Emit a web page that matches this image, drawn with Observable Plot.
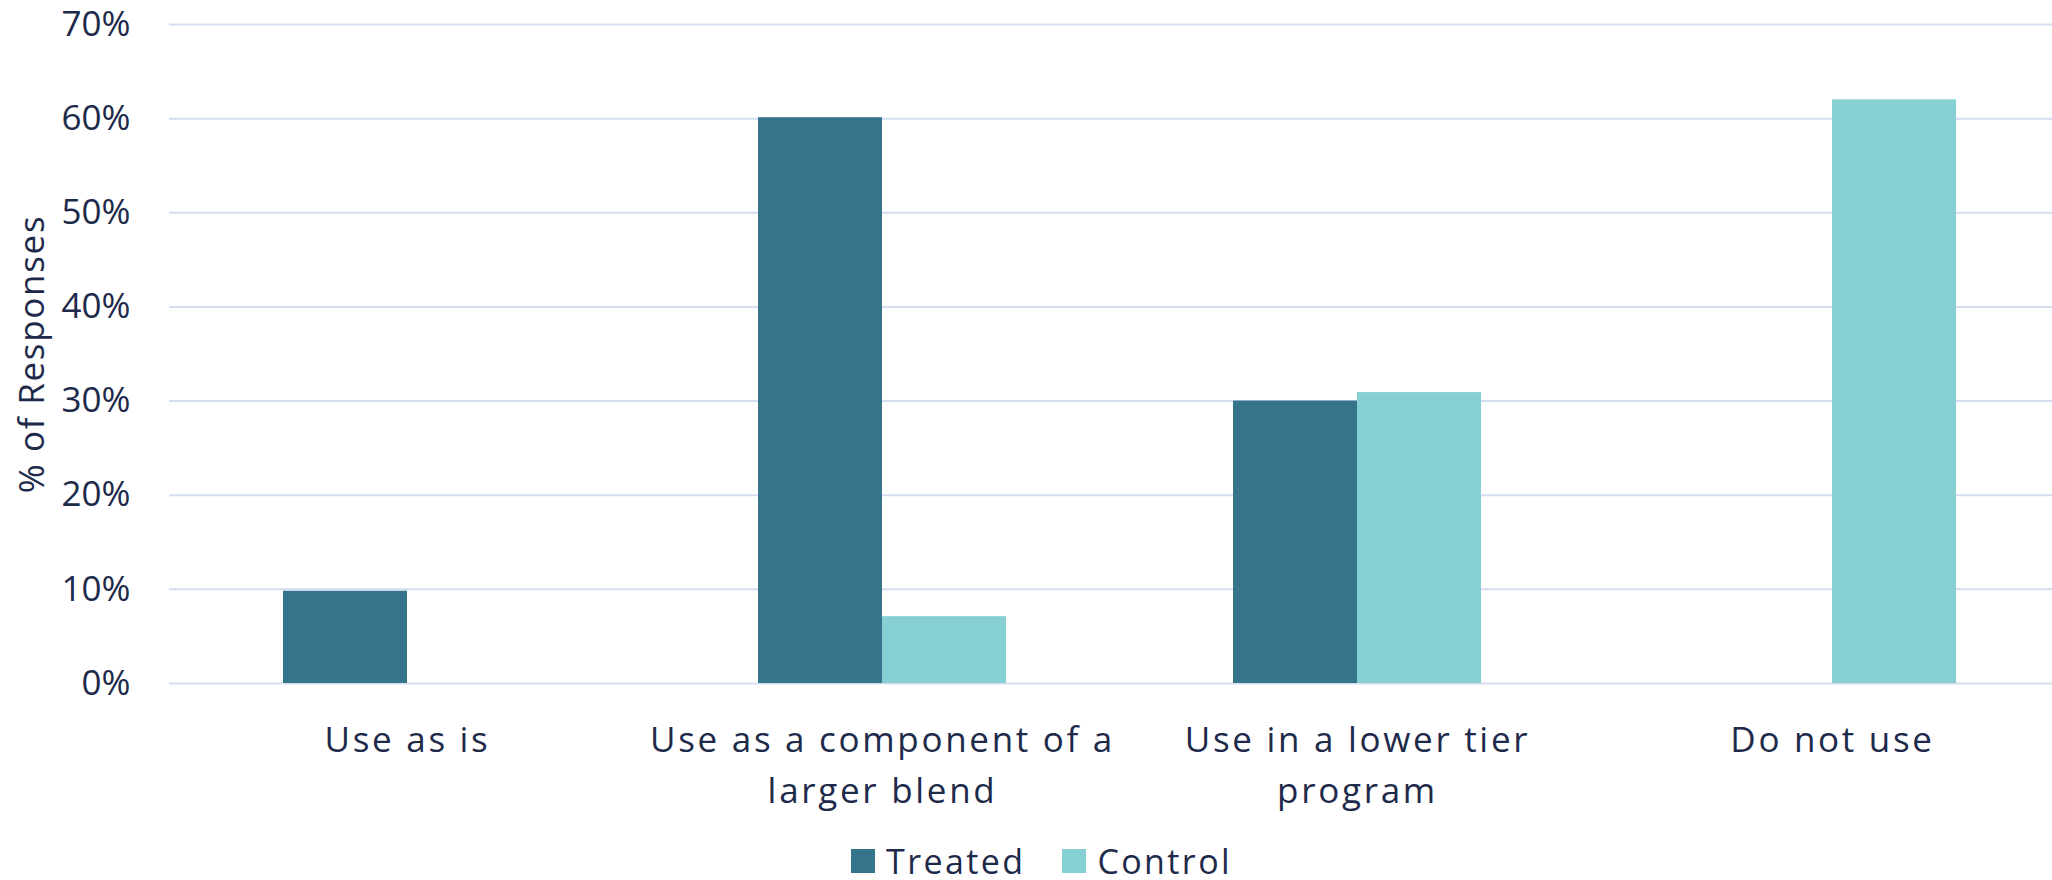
<!DOCTYPE html>
<html>
<head>
<meta charset="utf-8">
<script src="https://cdn.jsdelivr.net/npm/d3@7"></script>
<script src="https://cdn.jsdelivr.net/npm/@observablehq/plot@0.6"></script>
<style>
  html, body { margin: 0; padding: 0; background: #fff; overflow: hidden; }
  body { width: 2052px; height: 880px; font-family: "Open Sans", sans-serif; color: #1e2a4a; }
  #chart svg { display: block; max-width: none; }
  #chart svg g[aria-label="x-axis tick label"] text { letter-spacing: 2.7px; }
  #chart svg g[aria-label="y-axis label"] text { letter-spacing: 1.7px; }
  #legend { position: absolute; left: 851px; top: 849px; display: flex; align-items: center; font-size: 34px; line-height: 24px; letter-spacing: 2.4px; }
  .sw { width: 24px; height: 24px; display: inline-block; }
  .item { display: flex; align-items: center; }
  .lab { margin-left: 11px; }
</style>
</head>
<body>
<div id="chart"></div>
<div id="legend"></div>
<script>
const categories = ["Use as is", "Use as a component of a larger blend", "Use in a lower tier program", "Do not use"];
const tickLabels = ["Use as is", "Use as a component of a\nlarger blend", "Use in a lower tier\nprogram", "Do not use"];
const treated = [9.8, 60.1, 30.0, null];
const control = [null, 7.1, 30.9, 62.0];
const seriesNames = ["Treated", "Control"];
const seriesColors = ["#35748a", "#86d0d3"];
const yTicks = [0, 10, 20, 30, 40, 50, 60, 70];

const treatedRows = categories.map((c, i) => ({category: c, value: treated[i]})).filter(d => d.value != null);
const controlRows = categories.map((c, i) => ({category: c, value: control[i]})).filter(d => d.value != null);
const labelOf = new Map(categories.map((c, i) => [c, tickLabels[i]]));

const plot = Plot.plot({
  width: 2052,
  height: 820,
  marginLeft: 169,
  marginRight: -17,
  marginTop: 24,
  marginBottom: 137,
  style: { fontFamily: "'Open Sans', sans-serif", fontSize: "35px", color: "#1e2a4a", background: "white", overflow: "hidden" },
  x: { domain: categories, paddingInner: 0.478, paddingOuter: 0.239, label: null },
  y: { domain: [0, 70], label: null },
  marks: [
    Plot.gridY(yTicks, { stroke: "#d5ddf0", strokeOpacity: 1, strokeWidth: 2 }),
    Plot.barY(treatedRows, { x: "category", y: "value", fill: seriesColors[0], insetRight: 124 }),
    Plot.barY(controlRows, { x: "category", y: "value", fill: seriesColors[1], insetLeft: 124 }),
    Plot.axisY({ ticks: yTicks, tickSize: 0, tickPadding: 39, tickFormat: d => d + "%", fontSize: 35,
      label: "% of Responses", labelAnchor: "center", labelOffset: 150, labelArrow: "none" }),
    Plot.axisX({ tickSize: 0, tickPadding: 32, lineAnchor: "top", lineHeight: 1.46, fontSize: 35,
      tickFormat: d => labelOf.get(d), label: null })
  ]
});
document.getElementById("chart").appendChild(plot);

const legend = document.getElementById("legend");
seriesNames.forEach((name, i) => {
  const item = document.createElement("div");
  item.className = "item";
  item.style.marginRight = i === 0 ? "37px" : "0";
  const sw = document.createElement("span");
  sw.className = "sw";
  sw.style.background = seriesColors[i];
  const lab = document.createElement("span");
  lab.className = "lab";
  lab.textContent = name;
  item.appendChild(sw);
  item.appendChild(lab);
  legend.appendChild(item);
});
</script>
</body>
</html>
